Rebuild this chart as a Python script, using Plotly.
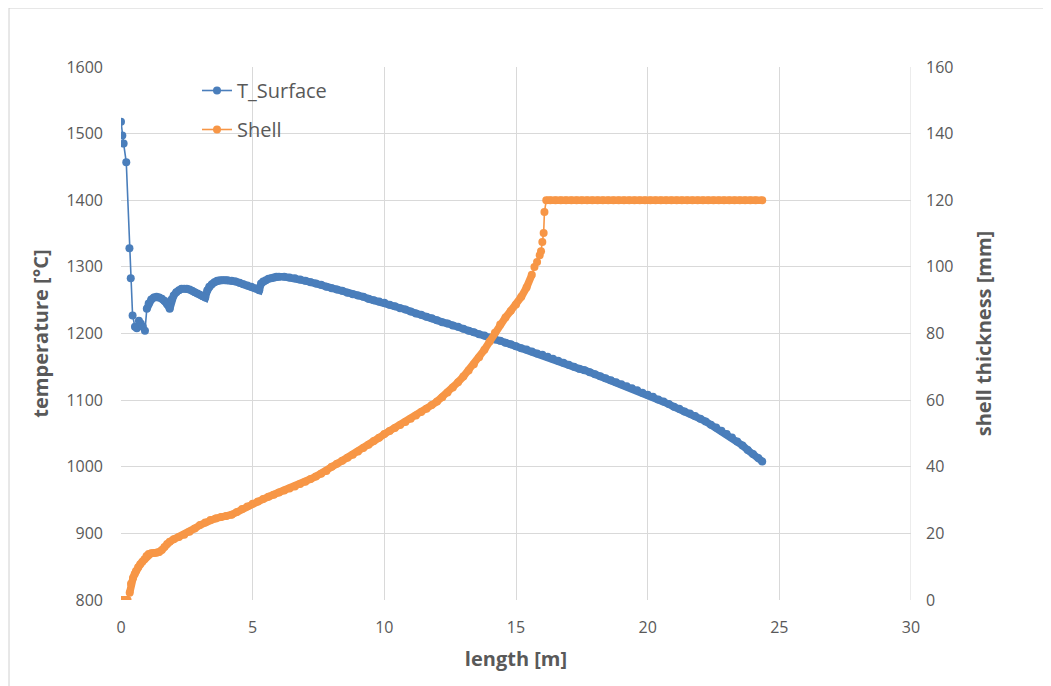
import plotly.graph_objects as go

# ---------------- data ----------------
x_temp = [0, 0.05, 0.1, 0.2, 0.32, 0.37, 0.44, 0.53, 0.6, 0.68, 0.75, 0.83, 0.91, 0.98,
          1.05, 1.15, 1.25, 1.35, 1.45, 1.55, 1.65, 1.75, 1.85, 1.92, 2.0, 2.1, 2.2, 2.3,
          2.4, 2.5, 2.6, 2.7, 2.8, 2.9, 3.0, 3.1, 3.2, 3.28, 3.35, 3.45, 3.55, 3.65, 3.75,
          3.85, 3.95, 4.05, 4.2, 4.35, 4.5, 4.65, 4.8, 4.95, 5.1, 5.25, 5.32, 5.4, 5.5,
          5.6, 5.7, 5.8, 5.9, 6.0,
          6.2, 6.4, 6.6, 6.8, 7.0, 7.2, 7.4, 7.6, 7.8, 8.0, 8.2, 8.4, 8.6, 8.8, 9.0,
          9.2, 9.4, 9.6, 9.8, 10.0, 10.2, 10.4, 10.6, 10.8, 11.0, 11.2, 11.4, 11.6, 11.8,
          12.0, 12.2, 12.4, 12.6, 12.8, 13.0, 13.2, 13.4, 13.6, 13.8, 14.0, 14.2, 14.4,
          14.6, 14.8, 15.0, 15.2, 15.4, 15.6, 15.8, 16.0, 16.2, 16.4, 16.6, 16.8, 17.0,
          17.2, 17.4, 17.6, 17.8, 18.0, 18.2, 18.4, 18.6, 18.8, 19.0, 19.2, 19.4, 19.6,
          19.8, 20.0, 20.2, 20.4, 20.6, 20.8, 21.0, 21.2, 21.4, 21.6, 21.8, 22.0, 22.2,
          22.4, 22.6, 22.8, 23.0, 23.2, 23.4, 23.6, 23.8, 24.0, 24.2, 24.35]
t_surface = [1518, 1497, 1485, 1457, 1328, 1283, 1227, 1210, 1208, 1219, 1215, 1210, 1204, 1237,
             1245, 1251, 1254, 1255, 1254, 1252, 1249, 1244, 1237, 1251, 1257, 1262, 1265, 1267,
             1267, 1267, 1266, 1264, 1262, 1260, 1258, 1256, 1254, 1265, 1270, 1274, 1277, 1279, 1280,
             1280, 1280, 1280, 1279, 1278, 1276, 1274, 1272, 1270, 1268, 1265, 1275, 1278, 1280,
             1282, 1283, 1284, 1285, 1285,
             1285, 1284, 1283, 1281, 1279, 1277, 1275, 1273, 1270, 1268, 1266, 1264, 1261, 1259, 1257,
             1255, 1252, 1250, 1248, 1246, 1243, 1241, 1238, 1236, 1233, 1230, 1228, 1225, 1223,
             1220, 1217, 1215, 1212, 1210, 1207, 1204, 1202, 1199, 1197, 1194, 1191, 1189,
             1186, 1184, 1181, 1178, 1176, 1173, 1170, 1168, 1165, 1162, 1159, 1156, 1153,
             1150, 1147, 1145, 1142, 1139, 1136, 1133, 1130, 1127, 1124, 1121, 1118, 1115,
             1111, 1108, 1105, 1101, 1098, 1094, 1090, 1087, 1083, 1080, 1076, 1072, 1068,
             1063, 1059, 1054, 1049, 1044, 1038, 1032, 1025, 1019, 1013, 1008]

x_shell = [0, 0.07, 0.13, 0.19, 0.25, 0.33, 0.38, 0.46, 0.52, 0.57, 0.65, 0.73, 0.81, 0.89,
           0.97, 1.05, 1.15, 1.25, 1.35, 1.45, 1.55, 1.65, 1.75, 1.85, 2.0, 2.2, 2.4, 2.6,
           2.8, 3.0, 3.2, 3.4, 3.6, 3.8, 4.0, 4.2, 4.4, 4.6, 4.8, 5.0, 5.2, 5.4, 5.6, 5.8,
           6.0, 6.2, 6.4, 6.6, 6.8, 7.0, 7.2, 7.4, 7.6, 7.8, 8.0, 8.2, 8.4, 8.6, 8.8, 9.0,
           9.2, 9.4, 9.6, 9.8, 10.0, 10.2, 10.4, 10.6, 10.8, 11.0, 11.2, 11.4, 11.6, 11.8,
           12.0, 12.2, 12.4, 12.6, 12.8, 13.0, 13.2, 13.4, 13.6, 13.8, 14.0, 14.2, 14.4,
           14.6, 14.8, 15.0, 15.2, 15.4, 15.6, 15.7, 15.8, 15.9, 15.95, 16.0, 16.05, 16.08,
           16.15, 16.3, 16.5, 16.7, 16.9, 17.1, 17.3, 17.5, 17.7, 17.9, 18.1, 18.3, 18.5,
           18.7, 18.9, 19.1, 19.3, 19.5, 19.7, 19.9, 20.1, 20.3, 20.5, 20.7, 20.9, 21.1,
           21.3, 21.5, 21.7, 21.9, 22.1, 22.3, 22.5, 22.7, 22.9, 23.1, 23.3, 23.5, 23.7,
           23.9, 24.1, 24.35]
shell = [0, 0, 0, 0, 0, 2.2, 4.9, 6.7, 7.8, 8.7, 9.8, 10.7, 11.5, 12.2,
         13.2, 13.8, 14.0, 14.1, 14.2, 14.4, 15.0, 15.9, 16.8, 17.5, 18.2, 18.9, 19.6, 20.5,
         21.5, 22.5, 23.3, 24.0, 24.5, 24.9, 25.2, 25.6, 26.4, 27.3, 28.1, 28.9, 29.6, 30.3, 31.0, 31.6,
         32.3, 32.9, 33.5, 34.1, 34.8, 35.5, 36.3, 37.1, 37.9, 38.7, 40.0, 40.9, 41.8, 42.7, 43.6, 44.6,
         45.6, 46.6, 47.7, 48.7, 49.8, 50.7, 51.6, 52.5, 53.4, 54.4, 55.4, 56.4, 57.4, 58.5,
         59.6, 60.9, 62.3, 63.8, 65.4, 67.1, 68.9, 70.8, 72.9, 75.1, 77.6, 80.2, 82.7,
         84.8, 86.8, 88.7, 91.0, 93.8, 97.6, 100.0, 101.5, 103.5, 104.7, 107.5, 110.2, 116.5,
         120, 120, 120, 120, 120, 120, 120, 120, 120, 120, 120, 120, 120,
         120, 120, 120, 120, 120, 120, 120, 120, 120, 120, 120, 120, 120,
         120, 120, 120, 120, 120, 120, 120, 120, 120, 120, 120, 120, 120,
         120, 120, 120]

x_ticks = [0, 5, 10, 15, 20, 25, 30]
t_ticks = [800, 900, 1000, 1100, 1200, 1300, 1400, 1500, 1600]
s_ticks = [0, 20, 40, 60, 80, 100, 120, 140, 160]

BLUE = "#4A7EBB"
ORANGE = "#F79646"
GRID = "#d9d9d9"
TXT = "#595959"
FONT = "Open Sans, sans-serif"

# page offset of the figure inside the browser (body margin)
OFF = 7
W, H = 1051 - OFF, 686 - OFF
L, T = 120 - OFF, 66 - OFF
PW, PH = 790, 533


def segment(xs, ys, lo, hi):
    idx = [i for i, v in enumerate(xs) if lo <= v <= hi]
    return [xs[i] for i in idx], [ys[i] for i in idx]


fig = go.Figure()

# dense stretches: the overlapping markers form a solid band
bx, by = segment(x_temp, t_surface, 0.98, 30)
fig.add_trace(go.Scatter(x=bx, y=by, mode="lines", showlegend=False, hoverinfo="skip",
                         line=dict(color=BLUE, width=7.5), yaxis="y"))
for lo, hi in [(0.3, 15.6), (16.15, 30)]:
    sx, sy = segment(x_shell, shell, lo, hi)
    fig.add_trace(go.Scatter(x=sx, y=sy, mode="lines", showlegend=False, hoverinfo="skip",
                             line=dict(color=ORANGE, width=7.5), yaxis="y2"))

fig.add_trace(go.Scatter(x=x_temp, y=t_surface, name="T_Surface", mode="lines+markers",
                         legendgroup="a",
                         line=dict(color=BLUE, width=1.6),
                         marker=dict(color=BLUE, size=8), yaxis="y"))
fig.add_trace(go.Scatter(x=x_shell, y=shell, name="Shell", mode="lines+markers",
                         legendgroup="b",
                         line=dict(color=ORANGE, width=1.6),
                         marker=dict(color=ORANGE, size=8), yaxis="y2"))

fig.update_layout(
    width=W, height=H,
    margin=dict(l=L, r=W - L - PW, t=T, b=H - T - PH),
    paper_bgcolor="white", plot_bgcolor="white",
    font=dict(family=FONT, color=TXT, size=16),
    xaxis=dict(range=[0, 30], tickvals=x_ticks, showgrid=True, gridcolor=GRID, gridwidth=1,
               zeroline=False, showline=False, ticks="", ticklabelstandoff=16,
               title=dict(text="<b>length [m]</b>", font=dict(size=20, color=TXT), standoff=14),
               tickfont=dict(size=16, color=TXT)),
    yaxis=dict(range=[800, 1600], tickvals=t_ticks, showgrid=True, gridcolor=GRID, gridwidth=1,
               zeroline=False, showline=False, ticks="", ticklabelstandoff=17,
               title=dict(text="<b>temperature [°C]</b>", font=dict(size=20, color=TXT), standoff=12),
               tickfont=dict(size=16, color=TXT)),
    yaxis2=dict(range=[0, 160], tickvals=s_ticks, overlaying="y", side="right", showgrid=False,
                zeroline=False, showline=False, ticks="", ticklabelstandoff=14,
                title=dict(text="<b>shell thickness [mm]</b>", font=dict(size=20, color=TXT), standoff=24),
                tickfont=dict(size=16, color=TXT)),
    legend=dict(x=(196 - 120) / PW, y=(599 - 70) / PH, xanchor="left", yanchor="top",
                bgcolor="rgba(0,0,0,0)", traceorder="grouped",
                font=dict(size=20, color=TXT), tracegroupgap=10, itemwidth=30),
    showlegend=True,
)

# x=30 gridline
fig.add_shape(type="line", xref="x", yref="paper", x0=30, x1=30, y0=0, y1=1,
              line=dict(color=GRID, width=1), layer="below")
# chart area border
fig.add_shape(type="rect", xref="paper", yref="paper",
              x0=(8 - 120) / PW, x1=(1049 - 120) / PW,
              y0=(599 - 700) / PH, y1=(599 - 7) / PH,
              line=dict(color="#d0d0d0", width=1), fillcolor="rgba(0,0,0,0)", layer="below")

fig.write_html("out.html")
